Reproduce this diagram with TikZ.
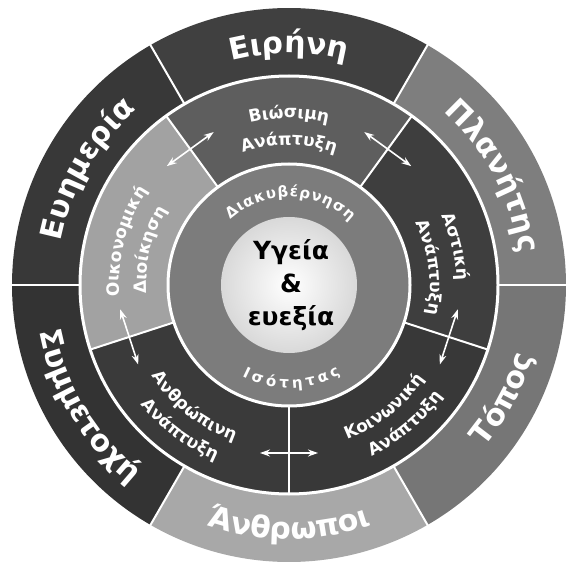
\documentclass[tikz,border=0pt]{standalone}
\usepackage{fontspec}
\setmainfont{DejaVu Sans}
\usetikzlibrary{decorations.text,arrows.meta}
\definecolor{cEir}{HTML}{404040}
\definecolor{cPla}{HTML}{7E7E7E}
\definecolor{cTop}{HTML}{767676}
\definecolor{cAnt}{HTML}{A8A8A8}
\definecolor{cSym}{HTML}{333333}
\definecolor{cEyh}{HTML}{383838}
\definecolor{cBio}{HTML}{5E5E5E}
\definecolor{cAst}{HTML}{3E3E3E}
\definecolor{cKoi}{HTML}{383838}
\definecolor{cAnth}{HTML}{3A3A3A}
\definecolor{cOik}{HTML}{A2A2A2}
\definecolor{cInn}{HTML}{7C7C7C}
\newcommand\OuterF{\fontsize{30}{30}\selectfont\bfseries}
\newcommand\MidF{\fontsize{17}{17}\selectfont\bfseries}
\newcommand\InnF{\fontsize{15}{15}\selectfont\bfseries}
\newcommand\TopTxt[6][center]{\path[decorate,decoration={text along path,text={|#2|#3},text align=#1,text color=white}] ({#4+#5}:#6) arc[start angle={#4+#5}, end angle={#4-#5}, radius=#6];}
\newcommand\BotTxt[6][center]{\path[decorate,decoration={text along path,text={|#2|#3},text align=#1,text color=white}] ({#4-#5}:#6) arc[start angle={#4-#5}, end angle={#4+#5}, radius=#6];}
\tikzset{
  sepcirc/.style={white, line width=3pt},
  sepline/.style={white, line width=2pt},
  arr/.style={white, line width=1.6pt, {Stealth[length=10pt,width=7pt]}-{Stealth[length=10pt,width=7pt]}},
}
\begin{document}
\begin{tikzpicture}[x=1pt,y=1pt]
\useasboundingbox (0,0) rectangle (570,563);
\begin{scope}[shift={(289,278)}]
% outer ring sectors
\foreach \a/\b/\c in {60/120/cEir, 0/60/cPla, -60/0/cTop, -120/-60/cAnt, 180/240/cSym, 120/180/cEyh}
  \fill[\c] (0,0) -- (\a:277) arc[start angle=\a, end angle=\b, radius=277] -- cycle;
% middle ring sectors
\foreach \a/\b/\c in {54/126/cBio, -18/54/cAst, -90/-18/cKoi, -162/-90/cAnth, 126/198/cOik}
  \fill[\c] (0,0) -- (\a:209) arc[start angle=\a, end angle=\b, radius=209] -- cycle;
% inner ring
\fill[cInn] (0,0) circle[radius=121];
% centre
\shade[inner color=white, outer color=gray!30] (0,0) circle[radius=68];
% separators
\draw[sepcirc] (0,0) circle[radius=209];
\draw[sepcirc] (0,0) circle[radius=121];
\foreach \a in {0,60,...,300}
  \draw[sepline] (\a:209) -- (\a:278);
\foreach \a in {54,126,198,270,342}
  \draw[sepline] (\a:121) -- (\a:209);
% arrows
\foreach \a in {54,126,198,270,342}
  \draw[arr] ([shift={({\a+90}:29)}]\a:168) -- ([shift={({\a-90}:29)}]\a:168);
% outer labels
\TopTxt{\OuterF}{Ειρήνη}{90}{60}{232}
\TopTxt{\OuterF}{Πλανήτης}{28}{60}{232}
\TopTxt{\OuterF}{Ευημερία}{150}{60}{232}
\BotTxt{\OuterF}{Τόπος}{-28}{60}{254}
\BotTxt{\OuterF}{Άνθρωποι}{-90}{60}{254}
\BotTxt{\OuterF}{Συμμετοχή}{-149}{60}{254}
% middle labels
\TopTxt{\MidF}{Βιώσιμη}{90}{36}{167}
\TopTxt{\MidF}{Ανάπτυξη}{90}{36}{140}
\TopTxt{\MidF}{Αστική}{13}{36}{168}
\TopTxt{\MidF}{Ανάπτυξη}{7}{36}{141}
\BotTxt{\MidF}{Κοινωνική}{-52}{36}{165}
\BotTxt{\MidF}{Ανάπτυξη}{-50}{36}{190}
\BotTxt{\MidF}{Ανθρώπινη}{-128}{36}{165}
\BotTxt{\MidF}{Ανάπτυξη}{-127}{36}{190}
\TopTxt{\MidF}{Οικονομική}{165}{36}{170}
\TopTxt{\MidF}{Διοίκηση}{166}{36}{143}
% inner labels
\TopTxt[fit to path]{\InnF}{Διακυβέρνηση}{89}{43}{88}
\BotTxt[fit to path]{\InnF}{Ισότητας}{-88.5}{28.5}{103}
% centre label
\node[font=\fontsize{25}{33}\selectfont\bfseries, align=center, text=black, inner sep=0pt] (ctr) at (2,0) {Υγεία\\\&\\ευεξία};
\end{scope}
\end{tikzpicture}
\end{document}
